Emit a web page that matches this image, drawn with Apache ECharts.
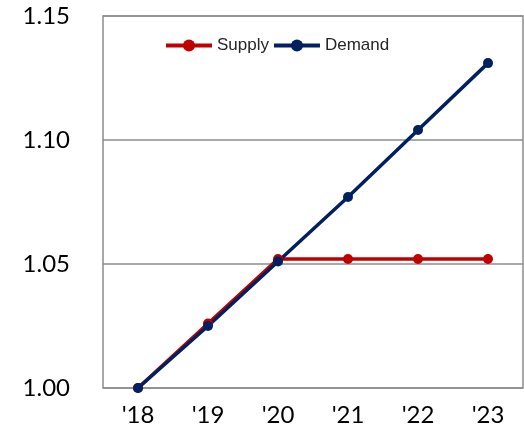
<!DOCTYPE html>
<html>
<head>
<meta charset="utf-8">
<script src="https://cdn.jsdelivr.net/npm/echarts@6/dist/echarts.min.js"></script>
<style>
  html, body { margin: 0; padding: 0; background: #fff; }
  #chart { width: 524px; height: 430px; }
</style>
</head>
<body>
<div id="chart"></div>
<script>
const years = ["'18", "'19", "'20", "'21", "'22", "'23"]
const supply = [1.000, 1.026, 1.052, 1.052, 1.052, 1.052]
const demand = [1.000, 1.025, 1.051, 1.077, 1.104, 1.131]

const chart = echarts.init(document.getElementById('chart'))

chart.setOption({
  animation: false,
  grid: { left: 103, right: 1, top: 16, bottom: 42, show: true, borderColor: '#8c8c8c', borderWidth: 1.5 },
  legend: {
    left: 159, top: 32,
    itemWidth: 46, itemHeight: 15, itemGap: 3,
    lineStyle: { width: 4 },
    textStyle: { fontFamily: 'Liberation Sans', fontSize: 17, color: '#262626' },
    data: ['Supply', 'Demand']
  },
  xAxis: {
    type: 'category',
    data: years,
    axisLine: { show: false },
    axisTick: { show: false },
    axisLabel: { fontFamily: 'Lato', fontSize: 24, color: '#000', margin: 15 }
  },
  yAxis: {
    type: 'value',
    min: 1.00, max: 1.15, interval: 0.05,
    axisLine: { show: false },
    axisTick: { show: false },
    splitLine: { lineStyle: { color: '#8c8c8c', width: 1.5 } },
    axisLabel: { fontFamily: 'Lato', fontSize: 24, color: '#000', margin: 33, formatter: v => v.toFixed(2) }
  },
  series: [
    {
      name: 'Supply', type: 'line', data: supply,
      color: '#c00000',
      symbol: 'circle', symbolSize: 10,
      lineStyle: { width: 3.5 }
    },
    {
      name: 'Demand', type: 'line', data: demand,
      color: '#002060',
      symbol: 'circle', symbolSize: 10,
      lineStyle: { width: 3.5 }
    }
  ]
})
</script>
</body>
</html>
